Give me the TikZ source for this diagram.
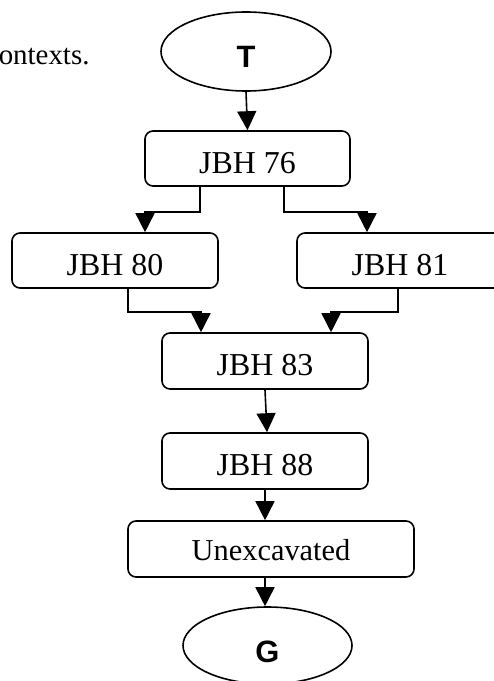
\documentclass[tikz,border=0pt]{standalone}
\usepackage{fontspec}
\setmainfont{Liberation Serif}
\newfontfamily\arialfont{Liberation Sans}
\usetikzlibrary{shapes.geometric,arrows.meta}
\begin{document}
\begin{tikzpicture}[x=1bp,y=-1bp,
  line width=1.6bp,
  box/.style={draw, rectangle, rounded corners=8bp, minimum width=206bp, minimum height=55bp, inner sep=0pt, text height=29bp, text depth=0pt, font=\fontsize{32}{38}\selectfont},
  term/.style={draw, ellipse, minimum width=170bp, minimum height=79bp, inner sep=0pt, text height=33bp, text depth=0pt, font=\arialfont\bfseries\fontsize{31}{37}\selectfont},
  arr/.style={-{Triangle[width=19bp,length=19bp]}}
]
\useasboundingbox (0,0) rectangle (494,681);
\node[anchor=base west, inner sep=0pt, font=\fontsize{29}{34}\selectfont] (ctx) at (-2,65) {ontexts.};
\node[term] (T) at (246,51.5) {T};
\node[box, minimum width=205bp] (j76) at (247.5,158.5) {JBH 76};
\node[box] (j80) at (115,260.5) {JBH 80};
\node[box] (j81) at (400,260.5) {JBH 81};
\node[box, minimum height=56bp] (j83) at (265,361) {JBH 83};
\node[box, minimum height=56bp] (j88) at (265,461) {JBH 88};
\node[box, minimum width=286bp, minimum height=56bp, text height=23bp, font=\fontsize{30.5}{36}\selectfont] (unex) at (271,549) {Unexcavated};
\node[term, minimum width=169bp, minimum height=77bp] (G) at (267.5,645.5) {G};
\draw[arr] (T.south) -- (j76.north);
\draw[arr] ([xshift=-47.5bp]j76.south) -- ++(0,25) -| ([xshift=30bp]j80.north);
\draw[arr] ([xshift=36.5bp]j76.south) -- ++(0,25) -| ([xshift=-33bp]j81.north);
\draw[arr] ([xshift=13bp]j80.south) -- ++(0,23) -| ([xshift=-64bp]j83.north);
\draw[arr] ([xshift=-2bp]j81.south) -- ++(0,23) -| ([xshift=66bp]j83.north);
\draw[arr] (j83.south) -- ([xshift=2bp]j88.north);
\draw[arr] (j88.south) -- ([xshift=-6bp]unex.north);
\draw[arr] ([xshift=-6bp]unex.south) -- ([xshift=-2.5bp]G.north);
\end{tikzpicture}
\end{document}
